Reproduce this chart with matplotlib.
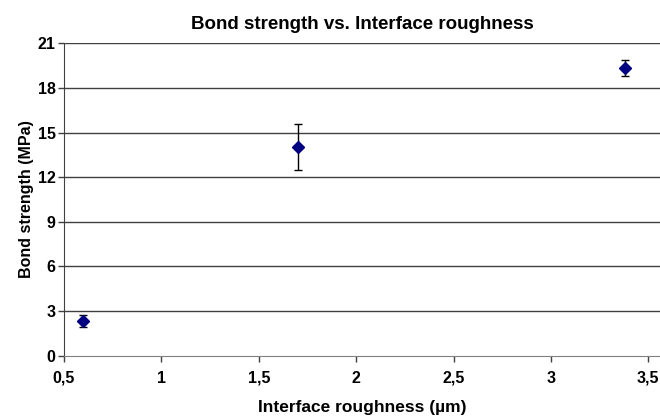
import matplotlib
matplotlib.use('Agg')
import matplotlib.pyplot as plt
from matplotlib.ticker import FuncFormatter

roughness = [0.6, 1.7, 3.38]
strength = [2.33, 14.05, 19.35]
strength_err = [0.4, 1.55, 0.55]
x_ticks = [0.5, 1, 1.5, 2, 2.5, 3, 3.5]
y_ticks = [0, 3, 6, 9, 12, 15, 18, 21]

plt.rcParams['font.family'] = ['Liberation Sans', 'DejaVu Sans']
plt.rcParams['font.weight'] = 'bold'

fig = plt.figure(figsize=(6.6, 4.16), dpi=100)
ax = fig.add_axes([0.097, 0.145, 0.903, 0.751])

for y in y_ticks[1:]:
    ax.axhline(y, color='#404040', lw=1.0, zorder=1)

ax.errorbar(roughness, strength, yerr=strength_err, fmt='D', color='#000080',
            markersize=6.5, ecolor='black', elinewidth=1.0, capsize=3,
            capthick=1.0, zorder=3)

ax.set_xlim(0.5, 3.56)
ax.set_ylim(0, 21)
ax.set_xticks(x_ticks)
ax.set_yticks(y_ticks)
ax.xaxis.set_major_formatter(FuncFormatter(lambda v, p: ('%g' % v).replace('.', ',')))

for s in ['top', 'right']:
    ax.spines[s].set_visible(False)
ax.spines['left'].set_color('#404040')
ax.spines['bottom'].set_color('#808080')
ax.tick_params(axis='both', direction='out', length=4, width=1, color='#404040',
               labelsize=11.5)
ax.tick_params(axis='x', pad=7)
ax.tick_params(axis='y', pad=2)

ax.set_title('Bond strength vs. Interface roughness', fontsize=13.5,
             fontweight='bold', pad=10)
ax.set_xlabel('Interface roughness (\u00b5m)', fontsize=12.5, fontweight='bold',
              labelpad=10)
ax.set_ylabel('Bond strength (MPa)', fontsize=11.5, fontweight='bold', labelpad=3)

fig.savefig('out.png', dpi=100)
